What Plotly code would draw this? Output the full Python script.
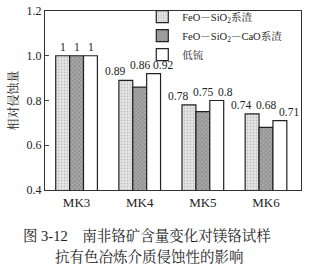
import plotly.graph_objects as go

categories = ["MK3", "MK4", "MK5", "MK6"]
series_names = ["FeO－SiO<sub>2</sub>系渣", "FeO－SiO<sub>2</sub>－CaO系渣", "低锍"]
feo_sio2 = [1, 0.89, 0.78, 0.74]
feo_sio2_cao = [1, 0.86, 0.75, 0.68]
low_matte = [1, 0.92, 0.8, 0.71]
y_ticks = [0.4, 0.6, 0.8, 1.0, 1.2]
y_tick_labels = ["0.4", "0.6", "0.8", "1.0", "1.2"]

FONT = "Liberation Serif, Noto Serif CJK SC, Noto Sans CJK SC, serif"

styles = [
    dict(color="#dcdcdc", pattern=dict(shape=".", fgcolor="#9a9a9a", bgcolor="#e6e6e6", size=3, solidity=0.3)),
    dict(color="#8c8c8c", pattern=dict(shape="x", fgcolor="#555555", bgcolor="#a8a8a8", size=3, solidity=0.35)),
    dict(color="white"),
]
# label horizontal offsets (px) per series, spread so labels don't collide
label_shift = [-25, 0, 23]

all_series = [feo_sio2, feo_sio2_cao, low_matte]
group_max = [max(s[k] for s in all_series) for k in range(len(categories))]

fig = go.Figure()
annotations = []
for i, (name, vals, st) in enumerate(zip(series_names, all_series, styles)):
    fig.add_trace(go.Bar(
        x=categories, y=vals, name=name,
        marker=dict(line=dict(color="#222", width=1.2), **st),
    ))
    for k, (c, v) in enumerate(zip(categories, vals)):
        ypos = group_max[k] if i == 1 else v
        annotations.append(dict(
            x=c, y=ypos, xref="x", yref="y", text=f"{v:g}", showarrow=False,
            xshift=(label_shift[i] if c != "MK3" else (i - 1) * 14),
            yanchor="bottom", yshift=1,
            font=dict(size=11.5, family=FONT, color="#222"),
        ))

annotations += [
    dict(text="图 3-12　南非铬矿含量变化对镁铬试样", xref="paper", yref="paper",
         x=0.40, y=-0.255, xanchor="center", yanchor="middle", showarrow=False,
         font=dict(size=14.5, family=FONT)),
    dict(text="抗有色冶炼介质侵蚀性的影响", xref="paper", yref="paper",
         x=0.41, y=-0.37, xanchor="center", yanchor="middle", showarrow=False,
         font=dict(size=14.5, family=FONT)),
]

fig.update_layout(
    width=312, height=266,
    margin=dict(l=45, r=11, t=11, b=76, autoexpand=False),
    paper_bgcolor="white", plot_bgcolor="white",
    barmode="group", bargap=0.34, bargroupgap=0,
    font=dict(family=FONT, size=12, color="#222"),
    showlegend=True,
    legend=dict(x=0.38, y=1.05, xanchor="left", yanchor="top",
                bgcolor="rgba(0,0,0,0)", font=dict(size=10.5, family=FONT),
                itemwidth=30, tracegroupgap=0),
    xaxis=dict(showline=True, linecolor="#333", linewidth=1, mirror=True,
               ticks="", tickfont=dict(size=13, family=FONT)),
    yaxis=dict(range=[0.4, 1.2], tickvals=y_ticks, ticktext=y_tick_labels,
               showline=True, linecolor="#333", linewidth=1, mirror=True,
               ticks="inside", ticklen=4, showgrid=False, zeroline=False,
               tickfont=dict(size=12, family=FONT),
               title=dict(text="相对侵蚀量", font=dict(size=12, family=FONT), standoff=5)),
    annotations=annotations,
)

fig.write_html("out.html")
